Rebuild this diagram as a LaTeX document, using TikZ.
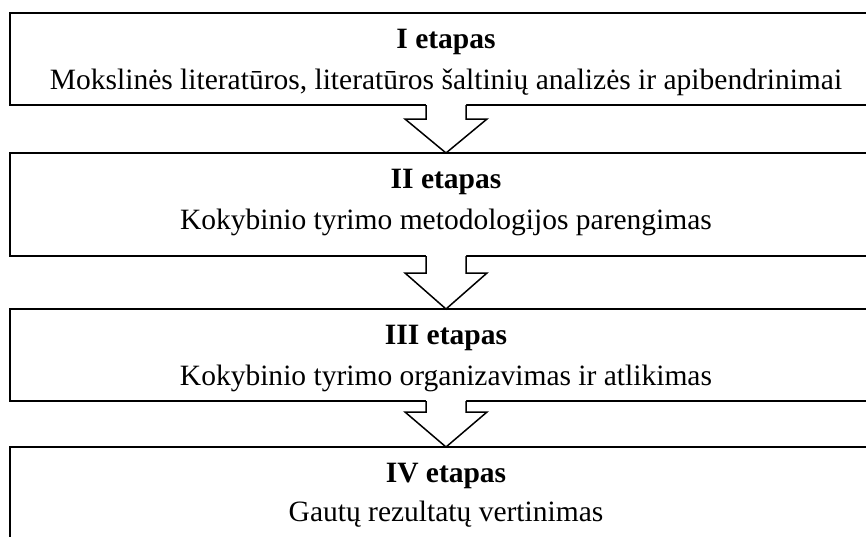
\documentclass[tikz,border=0pt]{standalone}
\usepackage{fontspec}
\setmainfont{Liberation Serif}
\usetikzlibrary{calc}
\begin{document}
\begin{tikzpicture}[x=1pt,y=-1pt,
  stagebox/.style={draw=black,line width=2.4pt,fill=white,outer sep=0pt,inner sep=0pt,anchor=north west,minimum width=872pt},
  ttl/.style={anchor=base,font=\fontsize{29.5}{34}\selectfont\bfseries,inner sep=0pt},
  txt/.style={anchor=base,font=\fontsize{29.5}{34}\selectfont,inner sep=0pt},
  arrowline/.style={draw=black,line width=1.5pt,line join=miter}]
\useasboundingbox (0,0) rectangle (866,536);
\fill[white] (0,0) rectangle (866,536);
\node[stagebox,minimum height=92pt] (s1) at (10,13) {};
\node[stagebox,minimum height=103pt] (s2) at (10,153) {};
\node[stagebox,minimum height=92pt] (s3) at (10,309) {};
\node[stagebox,minimum height=95pt] (s4) at (10,447) {};
\node[ttl] (t1) at ([yshift=-35pt]s1.north) {I etapas};
\node[txt] (d1) at ([yshift=-76pt]s1.north) {Mokslinės literatūros, literatūros šaltinių analizės ir apibendrinimai};
\node[ttl] (t2) at ([yshift=-35pt]s2.north) {II etapas};
\node[txt] (d2) at ([yshift=-76pt]s2.north) {Kokybinio tyrimo metodologijos parengimas};
\node[ttl] (t3) at ([yshift=-35pt]s3.north) {III etapas};
\node[txt] (d3) at ([yshift=-76pt]s3.north) {Kokybinio tyrimo organizavimas ir atlikimas};
\node[ttl] (t4) at ([yshift=-35pt]s4.north) {IV etapas};
\node[txt] (d4) at ([yshift=-74pt]s4.north) {Gautų rezultatų vertinimas};
\foreach \a/\b/\h in {s1/s2/14,s2/s3/17,s3/s4/11}{
  \fill[white] ($(\a.south)+(-20,-1.5)$) -- ($(\a.south)+(-20,\h)$) -- ($(\a.south)+(-41,\h)$) -- (\b.north) -- ($(\a.south)+(41,\h)$) -- ($(\a.south)+(20,\h)$) -- ($(\a.south)+(20,-1.5)$) -- cycle;
  \draw[arrowline] ($(\a.south)+(-20,0)$) -- ($(\a.south)+(-20,\h)$) -- ($(\a.south)+(-41,\h)$) -- (\b.north) -- ($(\a.south)+(41,\h)$) -- ($(\a.south)+(20,\h)$) -- ($(\a.south)+(20,0)$);
}
\end{tikzpicture}
\end{document}
